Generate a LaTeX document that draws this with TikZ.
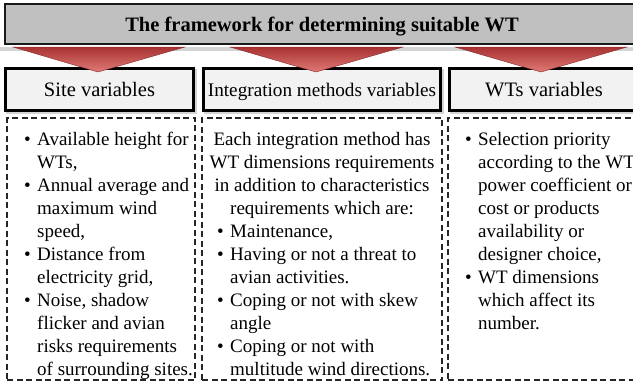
\documentclass[tikz,border=0pt]{standalone}
\usepackage{fontspec}
\setmainfont{Liberation Serif}
\newcommand\mybul{\llap{\textbullet\hspace{6.5pt}}}
\definecolor{titlefill}{HTML}{C0C0C0}
\definecolor{hdrfill}{HTML}{F2F2F2}
\definecolor{arrtop}{HTML}{A83232}
\definecolor{arrbot}{HTML}{E07A76}
\definecolor{shadowgray}{HTML}{D4D4D4}
\begin{document}
\begin{tikzpicture}[x=1pt,y=-1pt,
 titlebox/.style={draw=black!90, line width=2pt, fill=titlefill, minimum width=634pt, minimum height=40pt, inner sep=0pt, text height=14pt, text depth=0pt, font=\fontsize{20.5}{24}\selectfont\bfseries},
 hdr/.style={draw=black, line width=3pt, fill=hdrfill, minimum height=42pt, inner sep=0pt, text height=14pt, text depth=0pt, font=\fontsize{20.5}{24}\selectfont},
 dbox/.style={draw=black!85, line width=1.5pt, dash pattern=on 6pt off 3.5pt, minimum height=262pt, inner sep=0pt},
 body/.style={inner sep=0pt, font=\fontsize{19}{23}\selectfont},
 arr/.style={top color=arrtop, bottom color=arrbot, draw=arrtop!80!black, line width=0.4pt},
]
\useasboundingbox (0,0) rectangle (633,383);
% title shadow band
\fill[shadowgray] (0,46.5) rectangle (640,51);
% title
\node[titlebox] (title) at (322,24) {The framework for determining suitable WT};
% header shadows
\fill[shadowgray] (6,69) rectangle (197,114);
\fill[shadowgray] (204,69) rectangle (444,114);
\fill[shadowgray] (450,69) rectangle (642,114);
% headers
\node[hdr, minimum width=188pt] (h1) at (99.5,89.5) {Site variables};
\node[hdr, minimum width=237pt, font=\fontsize{19.2}{23}\selectfont] (h2) at (322,89.5) {Integration methods variables};
\node[hdr, minimum width=189pt] (h3) at (544,89.5) {WTs variables};
% arrows
\coordinate (a1l) at (13,47); \coordinate (a1r) at (185,47); \coordinate (a1t) at (98,72);
\coordinate (a2l) at (230,47); \coordinate (a2r) at (403,47); \coordinate (a2t) at (316,72);
\coordinate (a3l) at (455,47); \coordinate (a3r) at (627,47); \coordinate (a3t) at (541,72);
\shade[arr] (a1l) -- (a1r) -- (a1t) -- cycle;
\shade[arr] (a2l) -- (a2r) -- (a2t) -- cycle;
\shade[arr] (a3l) -- (a3r) -- (a3t) -- cycle;
% dashed boxes
\node[dbox, minimum width=188pt] (d1) at (101,249) {};
\node[dbox, minimum width=240pt] (d2) at (322,249) {};
\node[dbox, minimum width=212pt] (d3) at (554,249) {};
% site text
\foreach \t [count=\i] in {{\mybul Available height for},{WTs,},{\mybul Annual average and},{maximum wind},{speed,},{\mybul Distance from},{electricity grid,},{\mybul Noise, shadow},{flicker and avian},{risks requirements},{of surrounding sites.}}
  \node[body, anchor=base west] (s\i) at (37,{145+23*(\i-1)}) {\t};
% integration text
\foreach \t [count=\i] in {{Each integration method has},{WT dimensions requirements},{in addition to characteristics},{requirements which are:}}
  \node[body, anchor=base] (m\i) at (322,{145+23*(\i-1)}) {\t};
\foreach \t [count=\i from 5] in {{\mybul Maintenance,},{\mybul Having or not a threat to},{avian activities.},{\mybul Coping or not with skew},{angle},{\mybul Coping or not with},{multitude wind directions.}}
  \node[body, anchor=base west] (m\i) at (230,{145+23*(\i-1)}) {\t};
% WT text
\foreach \t [count=\i] in {{\mybul Selection priority},{according to the WT},{power coefficient or},{cost or products},{availability or},{designer choice,},{\mybul WT dimensions},{which affect its},{number.}}
  \node[body, anchor=base west] (w\i) at (478,{145+23*(\i-1)}) {\t};
\end{tikzpicture}
\end{document}
